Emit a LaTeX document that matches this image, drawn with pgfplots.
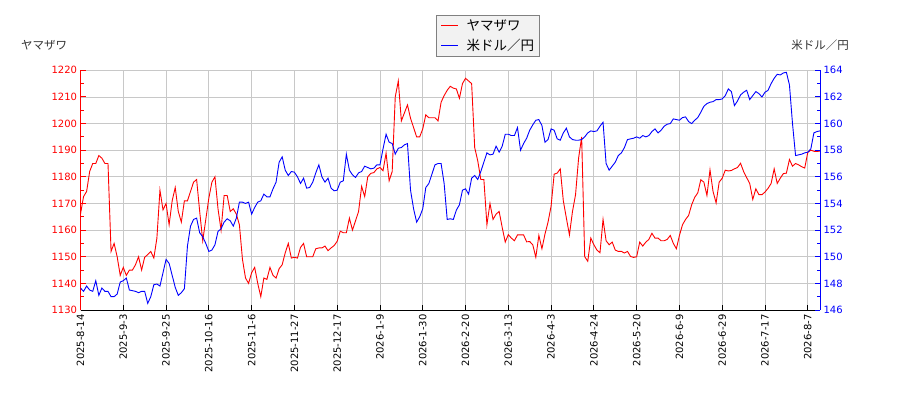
\documentclass[border=0pt]{standalone}
\usepackage{fontspec}
\usepackage{pgfplots}
\usepackage{pgfplotstable}
\pgfplotsset{compat=1.18}
\setmainfont{DejaVu Sans}
\newfontfamily\jp{Noto Sans CJK JP}

\definecolor{gridgray}{RGB}{200,200,200}
\definecolor{legfill}{RGB}{242,242,242}
\definecolor{legdraw}{RGB}{128,128,128}

% idx = trading day index, y = Yamazawa (yen), u = USD/JPY
\pgfplotstableread{
idx y u
0 1166 147.65
1 1172.6 147.4
2 1174.5 147.8
3 1182 147.5
4 1185 147.4
5 1185 148.2
6 1188 147.1
7 1187 147.65
8 1185 147.4
9 1185 147.4
10 1152 147.0
11 1155 147.0
12 1150 147.2
13 1143 148.1
14 1146 148.2
15 1143 148.4
16 1145 147.5
17 1145 147.45
18 1147 147.4
19 1150 147.3
20 1145 147.4
21 1149.8 147.4
22 1150.8 146.5
23 1152 147.0
24 1149.5 147.9
25 1157 147.95
26 1175 147.8
27 1167.6 148.8
28 1170 149.8
29 1162 149.5
30 1171 148.6
31 1176 147.7
32 1167 147.1
33 1163 147.3
34 1171 147.6
35 1171 150.8
36 1174.5 152.3
37 1178 152.8
38 1179 152.9
39 1167 151.8
40 1156 151.5
41 1164 151.0
42 1172 150.4
43 1178 150.5
44 1180 150.9
45 1168 151.9
46 1160 152.1
47 1173 152.6
48 1173 152.85
49 1167 152.7
50 1168 152.3
51 1166 152.9
52 1162 154.1
53 1149 154.1
54 1142 154.0
55 1140 154.1
56 1144 153.2
57 1146 153.7
58 1140 154.1
59 1135 154.2
60 1142 154.7
61 1141.5 154.5
62 1146 154.5
63 1143 155.1
64 1142 155.6
65 1145.5 157.1
66 1147 157.5
67 1151.5 156.5
68 1155 156.1
69 1149.5 156.4
70 1149.8 156.35
71 1149.5 156.0
72 1153.5 155.5
73 1155 155.9
74 1150 155.15
75 1150 155.2
76 1150 155.6
77 1153 156.3
78 1153.3 156.9
79 1153.3 156.0
80 1154 155.6
81 1152.3 155.9
82 1153.3 155.15
83 1154.2 154.95
84 1155.8 155.0
85 1159.6 155.6
86 1159 155.7
87 1159 157.7
88 1164.5 156.5
89 1160 156.15
90 1163.5 155.95
91 1167 156.3
92 1176.4 156.4
93 1172.6 156.8
94 1180 156.7
95 1181.3 156.6
96 1181.6 156.65
97 1183 156.9
98 1183.5 156.9
99 1182.3 158.1
100 1188.9 159.2
101 1178.5 158.6
102 1182 158.5
103 1210 157.7
104 1216 158.15
105 1201 158.2
106 1204 158.4
107 1207 158.5
108 1202 155.0
109 1198.5 153.6
110 1195 152.6
111 1195 153.0
112 1198 153.6
113 1203.3 155.2
114 1202.2 155.5
115 1202.2 156.2
116 1202.2 156.9
117 1201 157.0
118 1208 157.0
119 1210.5 155.5
120 1212.5 152.8
121 1214 152.85
122 1213.3 152.8
123 1213 153.5
124 1209.5 153.9
125 1215 155.0
126 1217 155.1
127 1216 154.7
128 1215 155.9
129 1191 156.1
130 1186 155.8
131 1179 156.4
132 1179 157.1
133 1162 157.8
134 1170 157.65
135 1164 157.7
136 1166 158.3
137 1167 157.85
138 1161 158.3
139 1155.5 159.2
140 1158.3 159.2
141 1157 159.1
142 1156 159.1
143 1158.2 159.7
144 1158.2 158.0
145 1158.2 158.5
146 1155.6 158.9
147 1155.7 159.5
148 1154.5 159.9
149 1149.8 160.25
150 1158 160.3
151 1153 159.85
152 1158.5 158.6
153 1163 158.8
154 1169 159.6
155 1181 159.5
156 1181.4 158.85
157 1183 158.75
158 1171 159.3
159 1164.5 159.65
160 1158.2 159.0
161 1167 158.8
162 1173.3 158.75
163 1187 158.75
164 1195 158.8
165 1150 159.0
166 1148.3 159.3
167 1157 159.45
168 1154.5 159.4
169 1152.5 159.45
170 1151.5 159.8
171 1164 160.1
172 1156 157.0
173 1154.5 156.5
174 1155.5 156.8
175 1152.5 157.1
176 1152 157.6
177 1152 157.8
178 1151.4 158.2
179 1152 158.8
180 1150.1 158.85
181 1149.75 158.9
182 1150 159.0
183 1155.5 158.9
184 1154 159.1
185 1155.5 159.0
186 1156.5 159.1
187 1158.8 159.4
188 1157 159.6
189 1157 159.3
190 1156 159.5
191 1156 159.8
192 1156.5 159.95
193 1158 160.0
194 1155 160.35
195 1153 160.3
196 1158 160.25
197 1162 160.45
198 1164 160.5
199 1165.5 160.15
200 1169.5 160.0
201 1172.3 160.25
202 1174 160.45
203 1178.9 160.85
204 1178 161.3
205 1173 161.5
206 1182.6 161.6
207 1174.5 161.65
208 1170.2 161.8
209 1178 161.8
210 1179.5 161.85
211 1182.5 162.1
212 1182.2 162.6
213 1182.4 162.4
214 1183 161.35
215 1183.5 161.7
216 1185.1 162.15
217 1182 162.35
218 1179.7 162.5
219 1177.5 161.8
220 1171.5 162.1
221 1175.5 162.4
222 1173.3 162.25
223 1173.3 162.0
224 1174.3 162.35
225 1175.7 162.5
226 1177.5 163.0
227 1183 163.4
228 1177.5 163.7
229 1179.5 163.65
230 1181.2 163.8
231 1181.4 163.85
232 1186.5 162.9
233 1184 160.0
234 1185 157.6
235 1184.5 157.65
236 1183.8 157.7
237 1183.3 157.8
238 1189.2 157.85
239 1190 158.1
240 1189.6 159.3
241 1189.5 159.4
242 1189.7 159.45
}\datatable

\pgfplotsset{
  common/.style={
    at={(80.5bp,90bp)}, anchor=south west,
    scale only axis, width=739.5bp, height=239.7bp,
    xmin=0, xmax=242,
    tick align=inside,
    major tick length=5bp, minor tick length=3bp,
    axis line style={-, line width=0.9bp},
    /pgf/number format/assume math mode=true,
    tick label style={font=\fontsize{10bp}{12bp}\selectfont},
  },
}

\begin{document}
\begin{tikzpicture}
\path[use as bounding box] (0,0) rectangle (900bp,400bp);

\begin{axis}[common,
  ymin=1130, ymax=1220,
  axis x line*=bottom, axis y line*=left,
  xtick={0,14,...,238},
  xticklabels={2025-8-14,2025-9-3,2025-9-25,2025-10-16,2025-11-6,2025-11-27,2025-12-17,2026-1-9,2026-1-30,2026-2-20,2026-3-13,2026-4-3,2026-4-24,2026-5-20,2026-6-9,2026-6-29,2026-7-17,2026-8-7},
  xticklabel style={rotate=90, anchor=east, xshift=-1bp},
  ytick={1130,1140,...,1220},
  minor ytick={1135,1145,...,1215},
  /pgf/number format/1000 sep={},
  yticklabel style={red},
  y axis line style={red},
  ytick style={red, line width=0.9bp},
  xtick style={black, line width=0.9bp},
  grid=major,
  major grid style={gridgray, line width=0.8bp},
]
\addplot[red, line width=0.9bp, mark=none] table[x=idx, y=y] {\datatable};
\end{axis}

\begin{axis}[common,
  ymin=146, ymax=164,
  axis x line=none, axis y line*=right,
  ytick={146,148,...,164},
  minor ytick={147,149,...,163},
  yticklabel style={blue},
  y axis line style={blue},
  ytick style={blue, line width=0.9bp},
]
\addplot[blue, line width=0.9bp, mark=none] table[x=idx, y=u] {\datatable};
\end{axis}

% legend box
\node[draw=legdraw, fill=legfill, line width=0.8bp, anchor=north, inner sep=0pt,
      minimum width=103bp, minimum height=41bp] at (488.3bp,385bp) {};
\draw[red, line width=1.5bp] (441bp,374.3bp) -- (457.5bp,374.3bp);
\draw[blue, line width=1.5bp] (441bp,354.3bp) -- (457.5bp,354.3bp);
\node[font=\jp\fontsize{13.5bp}{15bp}\selectfont, anchor=west, inner sep=0pt] at (466.5bp,374.3bp) {ヤマザワ};
\node[font=\jp\fontsize{13.5bp}{15bp}\selectfont, anchor=west, inner sep=0pt] at (466.5bp,354.3bp) {米ドル／円};

\node[font=\jp\fontsize{11.5bp}{13bp}\selectfont, text=black!80] at (44bp,355bp) {ヤマザワ};
\node[font=\jp\fontsize{11.5bp}{13bp}\selectfont, text=black!80] at (820bp,355bp) {米ドル／円};
\end{tikzpicture}
\end{document}
